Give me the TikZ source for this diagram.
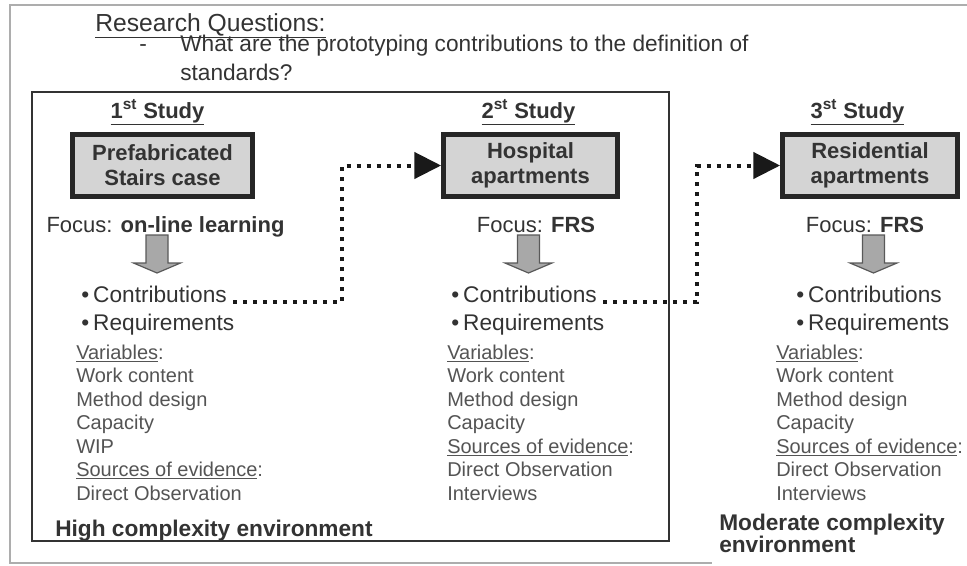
\documentclass[tikz,border=0pt]{standalone}
\usepackage{fontspec}
\setmainfont{Liberation Sans}
\usetikzlibrary{arrows.meta}
\definecolor{inkgray}{gray}{0.2}
\definecolor{listgray}{gray}{0.33}
\definecolor{boxfill}{gray}{0.83}
\definecolor{arrowfill}{gray}{0.66}
\definecolor{framegray}{gray}{0.68}
\newcommand{\sizedfont}[2]{\fontsize{#1}{#2}\selectfont}

\begin{document}
\begin{tikzpicture}
[x=0.75pt,y=-0.75pt,
studybox/.style={draw=black!85,line width=3.6pt,fill=boxfill,
minimum height=46.5pt,align=center,inner sep=0pt,text=inkgray,
font=\sizedfont{16.5pt}{18.75pt}\bfseries},
titletext/.style={anchor=base,inner sep=0pt,text=inkgray,
font=\sizedfont{16.5pt}{20pt}\bfseries},
focustext/.style={anchor=base,inner sep=0pt,text=inkgray,
font=\sizedfont{16.5pt}{20pt}},
bullettext/.style={anchor=base west,inner xsep=4.5pt,inner ysep=0pt,
text=inkgray,font=\sizedfont{17pt}{20pt}},
listtext/.style={anchor=base west,inner sep=0pt,align=left,text=listgray,
font=\sizedfont{15pt}{17.6pt}},
envtext/.style={anchor=base west,inner sep=0pt,align=left,text=inkgray,
font=\sizedfont{17pt}{16.5pt}\bfseries},
dotflow/.style={line width=3pt,dash pattern=on 3pt off 4.5pt,
draw=black!90,-{Triangle[length=20pt,width=19.5pt]}},
downblock/.pic={\draw[draw=black!65,fill=arrowfill,line width=0.9pt]
(-11,0) -- (11,0) -- (11,28) -- (23.5,28) -- (0,38) -- (-23.5,28)
-- (-11,28) -- cycle;}
]
\useasboundingbox (0,0) rectangle (967,565);
% frames
\draw[framegray,line width=2.2pt] (967,5) -- (10,5) -- (10,563) -- (712,563);
\draw[black!80,line width=1.4pt] (32,92) rectangle (669,541);
% research question (multi-line nodes sit on their last baseline)
\node[anchor=base west,inner sep=0pt,text=inkgray,
font=\sizedfont{18.5pt}{20pt}] (rq) at (95,31) {\underline{Research Questions:}};
\node[anchor=base west,inner sep=0pt,text=inkgray,
font=\sizedfont{17pt}{21.75pt}] (rqdash) at (139,51) {-};
\node[anchor=base west,inner sep=0pt,text=inkgray,align=left,
font=\sizedfont{17pt}{21.75pt}] (rqtext) at (180,80)
{What are the prototyping contributions to the definition of\\standards?};
% first study
\node[titletext] (title1) at (157.5,118) {\underline{1\textsuperscript{st} Study}};
\node[studybox,minimum width=135pt] (case1) at (162.5,165.5) {Prefabricated\\Stairs case};
\node[focustext] (focus1) at (165.5,232) {Focus: \textbf{on-line learning}};
\pic at (157,235) {downblock};
\node[bullettext] (contrib1) at (75,302) {\textbullet\hspace{3pt}Contributions};
\node[bullettext] (req1) at (75,330) {\textbullet\hspace{3pt}Requirements};
\node[listtext] (vars1) at (76,500) {\underline{Variables}:\\Work content\\Method design\\Capacity\\WIP\\\underline{Sources of evidence}:\\Direct Observation};
\node[envtext] (env1) at (55,536) {High complexity environment};
% second study
\node[titletext] (title2) at (528.5,118) {\underline{2\textsuperscript{st} Study}};
\node[studybox,minimum width=130.5pt] (case2) at (530.5,165.5) {Hospital\\apartments};
\node[focustext] (focus2) at (536,232) {Focus: \textbf{FRS}};
\pic at (528.5,235) {downblock};
\node[bullettext] (contrib2) at (445,302) {\textbullet\hspace{3pt}Contributions};
\node[bullettext] (req2) at (445,330) {\textbullet\hspace{3pt}Requirements};
\node[listtext] (vars2) at (447,500) {\underline{Variables}:\\Work content\\Method design\\Capacity\\\underline{Sources of evidence}:\\Direct Observation\\Interviews};
% third study
\node[titletext] (title3) at (857.5,118) {\underline{3\textsuperscript{st} Study}};
\node[studybox,minimum width=131.25pt] (case3) at (870,165.5) {Residential\\apartments};
\node[focustext] (focus3) at (865,232) {Focus: \textbf{FRS}};
\pic at (873.5,235) {downblock};
\node[bullettext] (contrib3) at (790,302) {\textbullet\hspace{3pt}Contributions};
\node[bullettext] (req3) at (790,330) {\textbullet\hspace{3pt}Requirements};
\node[listtext] (vars3) at (776,500) {\underline{Variables}:\\Work content\\Method design\\Capacity\\\underline{Sources of evidence}:\\Direct Observation\\Interviews};
\node[envtext] (env3) at (719,552) {Moderate complexity\\environment};
% dotted links
\coordinate (turn1) at (342,302);
\coordinate (turn2) at (697,302);
\draw[dotflow] (contrib1.base east) -- (turn1) |- (case2.west);
\draw[dotflow] (contrib2.base east) -- (turn2) |- (case3.west);
\end{tikzpicture}
\end{document}
